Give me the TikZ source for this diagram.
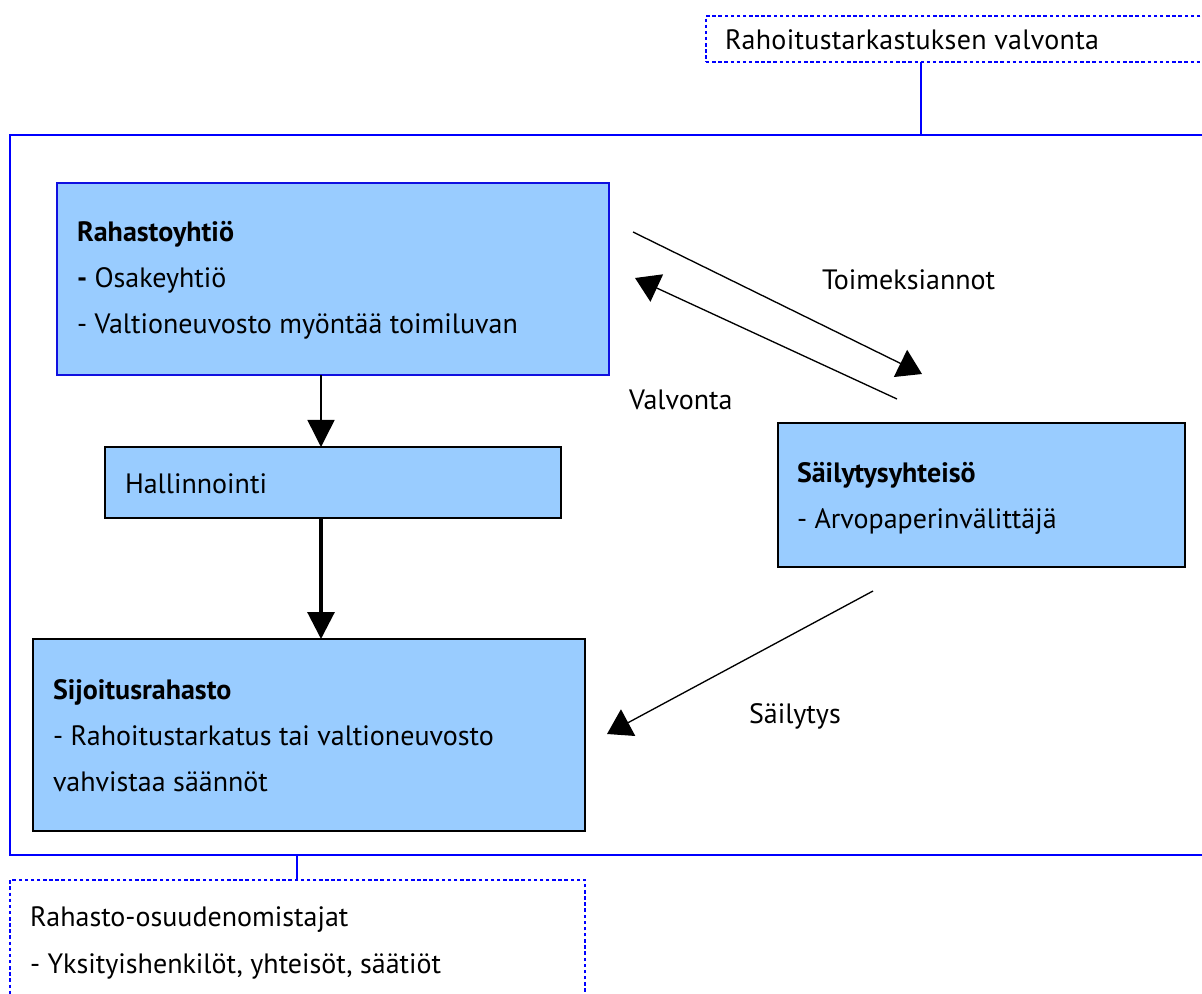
\documentclass[tikz,border=0pt]{standalone}
\usepackage{fontspec}
\setmainfont{PT Sans}
\usetikzlibrary{arrows.meta}
\definecolor{boxfill}{HTML}{99CCFF}
\definecolor{frameblue}{HTML}{0000FF}
\definecolor{darkblue}{HTML}{1010E0}
\def\px{0.75pt}
\begin{document}
\begin{tikzpicture}[x=0.75pt,y=-0.75pt,
  every node/.style={inner sep=0pt,outer sep=0pt},
  txt/.style={anchor=base west,font=\fontsize{21}{25}\selectfont},
  boldtxt/.style={anchor=base west,font=\fontsize{21}{25}\selectfont\bfseries},
  bluebox/.style={draw=darkblue,line width=1.5pt,fill=boxfill},
  blackbox/.style={draw=black,line width=1.5pt,fill=boxfill},
  dotbox/.style={draw=frameblue,line width=2pt,dash pattern=on 2.6pt off 2pt},
  frame/.style={draw=frameblue,line width=1.6pt},
  arr/.style={line width=1.1pt,-{Triangle[width=27*\px,length=27*\px]}},
  thickarr/.style={line width=2.3pt,-{Triangle[width=27*\px,length=27*\px]}},
  thinline/.style={line width=1pt,-{Triangle[width=30*\px,length=24*\px]}}
]
\useasboundingbox (0,0) rectangle (1202,994);
\clip (0,0) rectangle (1202,994);
% outer frame
\node[frame,anchor=north west,minimum width=1250*\px,minimum height=720*\px] (outer) at (10,135) {};
% top dotted box
\node[dotbox,anchor=north west,minimum width=540*\px,minimum height=46*\px] (top) at (706,16) {};
\node[txt,font=\fontsize{21}{25}\selectfont\addfontfeature{LetterSpace=1.1}] (topT) at (725,50) {Rahoitustarkastuksen valvonta};
% bottom dotted box
\node[dotbox,anchor=north west,minimum width=575*\px,minimum height=150*\px] (bot) at (10,880) {};
\node[txt] (botT1) at (30,926) {Rahasto-osuudenomistajat};
\node[txt] (botT2) at (30,973) {- Yksityishenkilöt, yhteisöt, säätiöt};
% connectors of frame
\coordinate (topc) at (921,62);
\coordinate (framet) at (921,135);
\draw[frame] (topc) -- (framet);
\coordinate (frameb) at (297,855);
\coordinate (botc) at (297,880);
\draw[frame] (frameb) -- (botc);
% Rahastoyhtiö
\node[bluebox,anchor=north west,minimum width=552*\px,minimum height=192*\px] (rah) at (57,183) {};
\node[boldtxt] (rahT1) at (77,242) {Rahastoyhtiö};
\node[txt] (rahT2) at (77,288) {\textbf{-} Osakeyhtiö};
\node[txt] (rahT3) at (77,334) {- Valtioneuvosto myöntää toimiluvan};
% Hallinnointi
\node[blackbox,anchor=north west,minimum width=456*\px,minimum height=71*\px] (hal) at (105,447) {};
\node[txt] (halT) at (125,493) {Hallinnointi};
% Sijoitusrahasto
\node[blackbox,anchor=north west,minimum width=552*\px,minimum height=192*\px] (sij) at (33,639) {};
\node[boldtxt] (sijT1) at (53,699) {Sijoitusrahasto};
\node[txt] (sijT2) at (53,745) {- Rahoitustarkatus tai valtioneuvosto};
\node[txt] (sijT3) at (53,791) {vahvistaa säännöt};
% Säilytysyhteisö
\node[blackbox,anchor=north west,minimum width=407*\px,minimum height=144*\px] (sai) at (778,423) {};
\node[boldtxt] (saiT1) at (797,482) {Säilytysyhteisö};
\node[txt] (saiT2) at (797,528) {- Arvopaperinvälittäjä};
% vertical arrows
\draw[arr] (321,375) -- (hal.north -| 321,375);
\draw[thickarr] (hal.south -| 321,518) -- (sij.north -| 321,639);
% diagonal arrows
\coordinate (toA) at (633,232);
\coordinate (toB) at (922,374);
\draw[thinline] (toA) -- (toB);
\coordinate (vaA) at (897,399);
\coordinate (vaB) at (635,278);
\draw[thinline] (vaA) -- (vaB);
\coordinate (saA) at (873,591);
\coordinate (saB) at (607,734);
\draw[thinline] (saA) -- (saB);
% labels
\node[txt] (lTo) at (822,290) {Toimeksiannot};
\node[txt] (lVa) at (629,410) {Valvonta};
\node[txt] (lSa) at (749,723) {Säilytys};
\end{tikzpicture}
\end{document}
